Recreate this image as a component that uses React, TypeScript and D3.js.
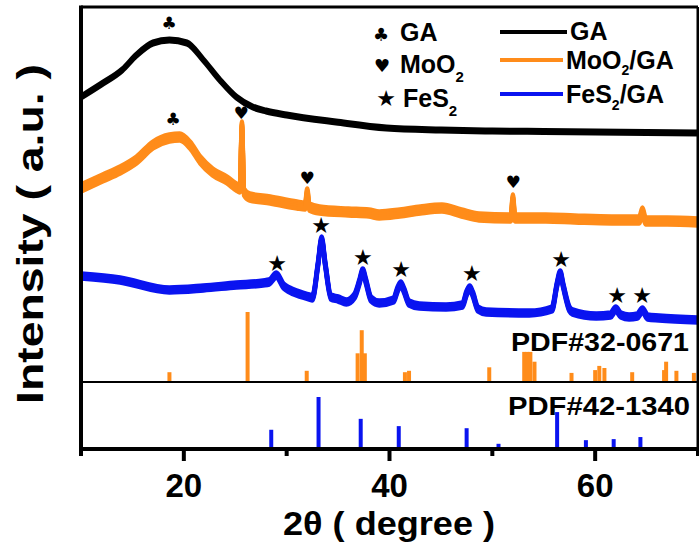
import React from "react";
import * as d3 from "d3";

// 2θ (degree) and intensity (a.u.)
const gaData: [number, number][] = [
  [10, 352], [12, 365], [14, 379], [15.4, 394], [17, 406], [18.6, 409],
  [20.3, 406], [21.9, 389], [23.5, 369], [25.1, 352], [26.7, 342], [28, 338],
  [30, 334], [34.8, 327], [39.7, 321], [45, 319], [50, 318], [55, 317.5],
  [60, 317], [65, 316.5], [70, 316],
];

const moData: [number, number][] = [
  [10, 261], [12.1, 271], [13.8, 279], [15.4, 289], [17, 304], [18.6, 311],
  [19.6, 312], [20.6, 304], [21.6, 289], [22.8, 277], [24.2, 269], [25.1, 262],
  [25.45, 260], [25.65, 324], [25.85, 257], [26.4, 252], [28.4, 249], [31, 244],
  [31.8, 243], [32, 257], [32.2, 242], [33.2, 239], [36, 237], [38, 236],
  [39, 234], [41, 236], [43, 239], [45.1, 241], [47, 236], [48.7, 232],
  [51.8, 231], [52, 251], [52.2, 231], [55.2, 231], [58, 230], [61.6, 229],
  [64.3, 229], [64.6, 238], [64.9, 228], [67, 228], [70, 227],
];

const feData: [number, number][] = [
  [10, 173], [13.8, 169], [18.6, 159], [21.9, 161], [25.1, 164], [27.7, 166],
  [28.3, 167], [29, 174], [29.7, 163], [30.3, 159], [32.2, 152], [32.5, 151],
  [33.05, 185], [33.4, 210], [33.75, 185], [34.3, 152], [35, 150], [35.8, 147],
  [36.6, 153], [37.1, 168], [37.4, 178], [37.7, 168], [38.2, 150], [39, 146],
  [40.4, 149], [40.8, 160], [41.1, 165], [41.4, 159], [41.9, 146], [42.9, 143],
  [45.5, 142], [47.1, 144], [47.5, 156], [47.8, 161], [48.1, 155], [48.6, 140],
  [49.4, 137], [53.6, 136], [55.8, 140], [56.3, 165], [56.6, 176], [56.9, 163],
  [57.5, 140], [57.8, 137], [60.1, 133], [61.5, 134], [62, 140], [62.5, 134],
  [63.3, 132], [64.1, 133], [64.6, 139], [65.1, 132], [66.2, 131], [70, 129],
];

// reference patterns: 2θ and relative intensity
const pdfMo: [number, number][] = [
  [18.6, 14], [26.2, 100], [31.95, 16], [36.9, 41], [37.3, 74], [37.6, 41],
  [41.5, 14], [41.9, 16], [49.7, 21], [53.1, 43], [53.4, 43], [53.7, 43],
  [54.1, 29], [57.7, 13], [60.0, 17], [60.4, 23], [60.9, 20], [63.6, 14],
  [66.7, 17], [66.9, 29], [67.9, 16], [69.6, 13],
];

const pdfFe: [number, number][] = [
  [28.5, 37], [33.1, 100], [37.2, 58], [40.9, 44], [47.5, 40], [50.6, 10],
  [56.3, 71], [59.1, 17], [61.8, 19], [64.4, 23],
];

const clubs: [number, number][] = [[18.56, 426], [18.95, 330]];
const hearts: [number, number][] = [[25.56, 336], [31.98, 271], [52.01, 267]];
const stars: [number, number][] = [
  [29.06, 186], [33.34, 224], [37.42, 192], [41.12, 180], [48.02, 176],
  [56.68, 190], [62.13, 154], [64.56, 154],
];

const majorTicks = [20, 40, 60];
const minorTicks = [10, 30, 50, 70];

const FONT = "'Liberation Sans', Arial, sans-serif";
const SYM = "'DejaVu Sans', sans-serif";

const series = [
  { data: gaData, color: "#000000", w: 4, offs: [-1.5, 0, 1.5] },
  { data: moData, color: "#ff8c1a", w: 4.5, offs: [-3.5, -1.5, 0, 1.5, 3.5] },
  { data: feData, color: "#0a14f0", w: 4.5, offs: [-2.5, -1, 0, 1, 2.5] },
];

export default function App() {
  const W = 699;
  const H = 551;
  const left = 81, right = 698, top = 7, bottom = 449, divider = 382;

  const x = d3.scaleLinear().domain([10, 70]).range([left, right]);
  const y = d3.scaleLinear().domain([0, 442]).range([bottom, top]);
  const yMo = d3.scaleLinear().domain([0, 100]).range([divider, 312]);
  const yFe = d3.scaleLinear().domain([0, 100]).range([bottom, 397]);

  const line = d3
    .line<[number, number]>()
    .x((d) => x(d[0]))
    .y((d) => y(d[1]))
    .curve(d3.curveMonotoneX);

  return (
    <svg
      width={W}
      height={H}
      style={{ position: "absolute", left: 0, top: 0, display: "block", background: "#fff" }}
    >
      <defs>
        <clipPath id="plot">
          <rect x={left} y={top} width={right - left} height={bottom - top} />
        </clipPath>
      </defs>

      {/* reference bars */}
      {pdfMo.map((d, i) => (
        <line key={"m" + i} x1={x(d[0])} x2={x(d[0])} y1={yMo(0)} y2={yMo(d[1])}
          stroke="#ff8c1a" strokeWidth={4} />
      ))}
      {pdfFe.map((d, i) => (
        <line key={"f" + i} x1={x(d[0])} x2={x(d[0])} y1={yFe(0)} y2={yFe(d[1])}
          stroke="#0a14f0" strokeWidth={4} />
      ))}

      {/* patterns */}
      <g clipPath="url(#plot)">
        {series.map((s, i) =>
          s.offs.map((o, j) => (
            <path key={i + "-" + j} d={line(s.data) || ""} transform={`translate(0,${o})`}
              fill="none" stroke={s.color} strokeWidth={s.w} strokeLinejoin="round" />
          ))
        )}
      </g>

      {/* peak markers */}
      <g fontFamily={SYM} textAnchor="middle" dominantBaseline="central" fill="#000">
        {clubs.map((d, i) => (
          <text key={"c" + i} x={x(d[0])} y={y(d[1])} fontSize={17}>♣</text>
        ))}
        {hearts.map((d, i) => (
          <text key={"h" + i} x={x(d[0])} y={y(d[1])} fontSize={17}>♥</text>
        ))}
        {stars.map((d, i) => (
          <text key={"s" + i} x={x(d[0])} y={y(d[1])} fontSize={22}>★</text>
        ))}
      </g>

      {/* legend */}
      <g fontFamily={FONT} fontWeight="bold" fontSize={25} fill="#000">
        <text x={381} y={34} fontFamily={SYM} fontSize={18} textAnchor="middle" dominantBaseline="central">♣</text>
        <text x={382} y={65} fontFamily={SYM} fontSize={18} textAnchor="middle" dominantBaseline="central">♥</text>
        <text x={386} y={98} fontFamily={SYM} fontSize={22} textAnchor="middle" dominantBaseline="central">★</text>
        <text x={400} y={41}>GA</text>
        <text x={400} y={73}>MoO<tspan dy={9} fontSize={15}>2</tspan></text>
        <text x={403} y={107}>FeS<tspan dy={9} fontSize={15}>2</tspan></text>

        <line x1={500} x2={567} y1={32} y2={32} stroke="#000" strokeWidth={4} />
        <line x1={500} x2={563} y1={60} y2={60} stroke="#ff8c1a" strokeWidth={4} />
        <line x1={500} x2={563} y1={94} y2={94} stroke="#0a14f0" strokeWidth={4} />
        <text x={570} y={40}>GA</text>
        <text x={566} y={69}>MoO<tspan dy={6} fontSize={14}>2</tspan><tspan dy={-6}>/GA</tspan></text>
        <text x={566} y={103}>FeS<tspan dy={7} fontSize={14}>2</tspan><tspan dy={-7}>/GA</tspan></text>
      </g>

      {/* reference labels */}
      <g fontFamily={FONT} fontWeight="bold" fontSize={25} fill="#000" textAnchor="end">
        <text x={689} y={351} textLength={178} lengthAdjust="spacingAndGlyphs">PDF#32-0671</text>
        <text x={690} y={415} textLength={182} lengthAdjust="spacingAndGlyphs">PDF#42-1340</text>
      </g>

      {/* frame */}
      <line x1={left} x2={right} y1={divider} y2={divider} stroke="#000" strokeWidth={2} />
      <line x1={left} x2={right} y1={top} y2={top} stroke="#000" strokeWidth={3} />
      <line x1={right} x2={right} y1={top} y2={bottom} stroke="#000" strokeWidth={3} />
      <line x1={left} x2={left} y1={top - 1.5} y2={bottom + 2} stroke="#000" strokeWidth={4} />
      <line x1={left - 2} x2={right} y1={bottom} y2={bottom} stroke="#000" strokeWidth={4} />

      {/* ticks */}
      {majorTicks.map((t) => (
        <line key={"M" + t} x1={x(t)} x2={x(t)} y1={bottom} y2={bottom + 12} stroke="#000" strokeWidth={4} />
      ))}
      {minorTicks.map((t) => (
        <line key={"m" + t} x1={x(t)} x2={x(t)} y1={bottom} y2={bottom + 7} stroke="#000" strokeWidth={4} />
      ))}
      <g fontFamily={FONT} fontWeight="bold" fontSize={33} fill="#000" textAnchor="middle">
        {majorTicks.map((t) => (
          <text key={"l" + t} x={x(t)} y={497}>{t}</text>
        ))}
        <text x={389} y={535} textLength={212} lengthAdjust="spacingAndGlyphs">2θ ( degree )</text>
        <text transform={`translate(43,${(top + bottom) / 2 + 6}) rotate(-90)`} fontSize={36}
          textLength={340} lengthAdjust="spacingAndGlyphs">
          Intensity ( a.u. )
        </text>
      </g>
    </svg>
  );
}
